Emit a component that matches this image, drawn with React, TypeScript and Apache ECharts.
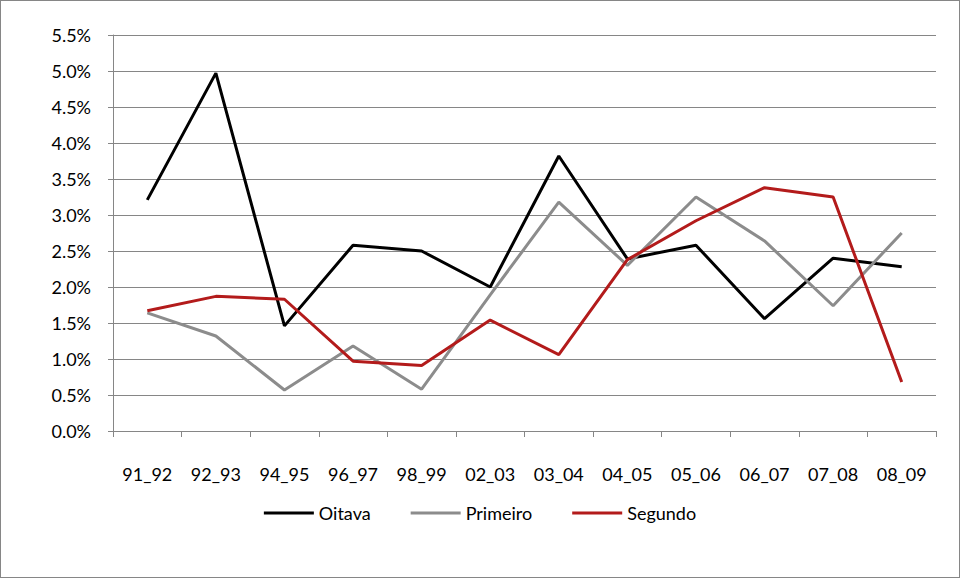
import React, { useEffect, useRef } from "react";
import * as echarts from "echarts";

const categories = ["91_92", "92_93", "94_95", "96_97", "98_99", "02_03", "03_04", "04_05", "05_06", "06_07", "07_08", "08_09"];
const oitava = [3.21, 4.97, 1.46, 2.58, 2.5, 2.0, 3.82, 2.39, 2.58, 1.56, 2.4, 2.28];
const primeiro = [1.64, 1.32, 0.57, 1.18, 0.58, 1.89, 3.18, 2.3, 3.25, 2.64, 1.74, 2.75];
const segundo = [1.67, 1.87, 1.83, 0.97, 0.91, 1.54, 1.06, 2.38, 2.92, 3.38, 3.25, 0.68];

export default function App() {
  const ref = useRef<HTMLDivElement>(null);
  useEffect(() => {
    document.body.style.margin = "0";
    const chart = echarts.init(ref.current!, null, { renderer: "svg" });
    const font = "Lato, 'Open Sans', sans-serif";
    chart.setOption({
      animation: false,
      backgroundColor: "#fff",
      grid: { left: 112, top: 34, width: 823, height: 396 },
      legend: {
        bottom: 50,
        left: "center",
        itemGap: 40,
        icon: "rect",
        itemWidth: 50,
        itemHeight: 3,
        textStyle: { fontFamily: font, fontSize: 18, color: "#000" },
        data: ["Oitava", "Primeiro", "Segundo"],
      },
      xAxis: {
        type: "category",
        data: categories,
        boundaryGap: true,
        axisLine: { lineStyle: { color: "#868686" } },
        axisTick: { show: true, length: 6, lineStyle: { color: "#868686" } },
        axisLabel: { interval: 0, margin: 34, fontFamily: font, fontSize: 18, color: "#000" },
      },
      yAxis: {
        type: "value",
        min: 0,
        max: 5.5,
        interval: 0.5,
        axisLine: { show: true, lineStyle: { color: "#868686" } },
        axisTick: { show: true, length: 5, lineStyle: { color: "#868686" } },
        splitLine: { lineStyle: { color: "#868686" } },
        axisLabel: { formatter: (v: number) => v.toFixed(1) + "%", fontFamily: font, fontSize: 18, color: "#000", margin: 22 },
      },
      series: [
        { name: "Oitava", type: "line", data: oitava, showSymbol: false, lineStyle: { width: 3, color: "#000" }, itemStyle: { color: "#000" } },
        { name: "Primeiro", type: "line", data: primeiro, showSymbol: false, lineStyle: { width: 3, color: "#8c8c8c" }, itemStyle: { color: "#8c8c8c" } },
        { name: "Segundo", type: "line", data: segundo, showSymbol: false, lineStyle: { width: 3, color: "#b31b1b" }, itemStyle: { color: "#b31b1b" } },
      ],
    });
    return () => chart.dispose();
  }, []);
  return (
    <div style={{ width: 960, height: 578, boxSizing: "border-box", border: "1px solid #868686" }}>
      <div ref={ref} style={{ width: 958, height: 576 }} />
    </div>
  );
}
